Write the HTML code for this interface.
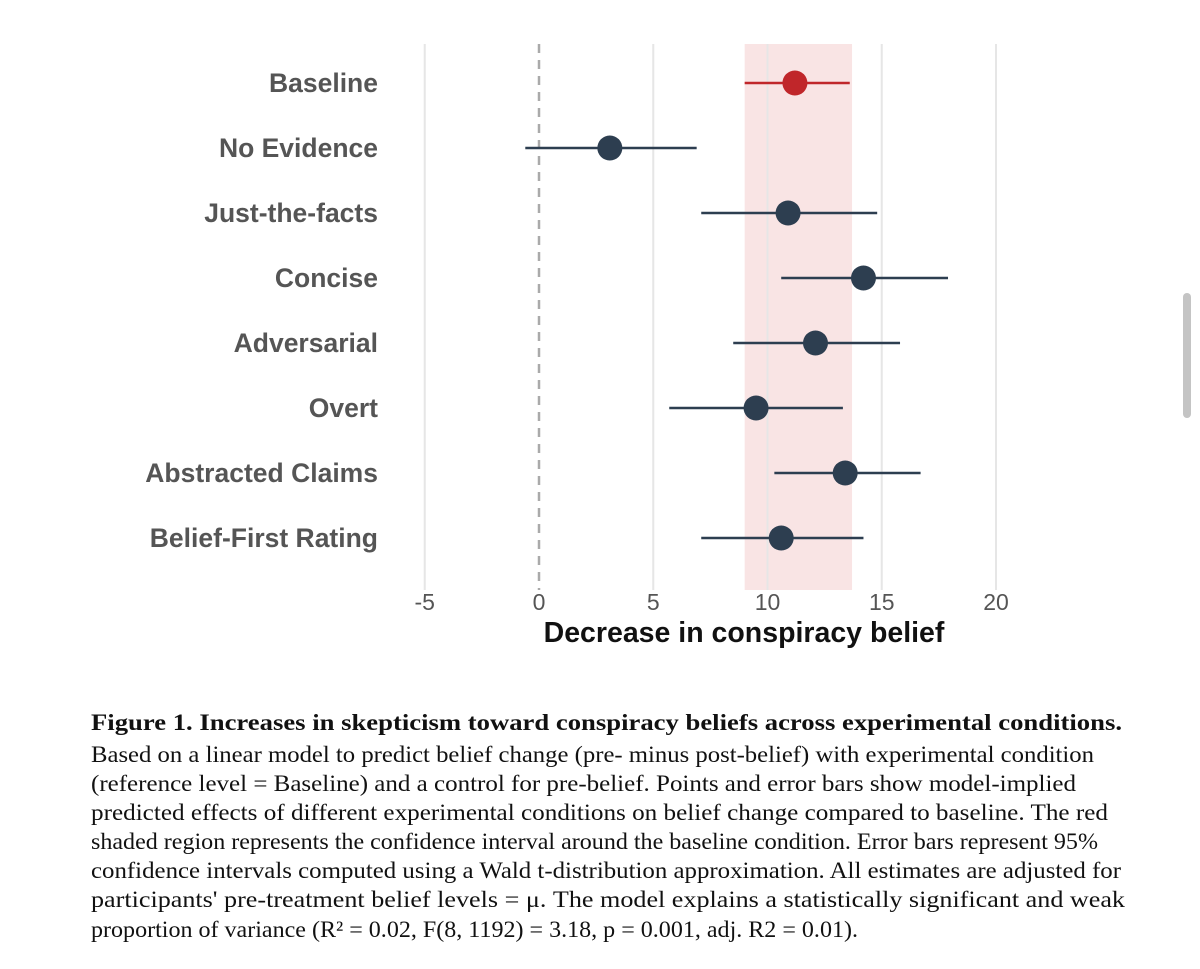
<!DOCTYPE html>
<html><head><meta charset="utf-8"><style>
body{margin:0;background:#fff;width:1200px;height:969px;overflow:hidden;position:relative}
svg{position:absolute;left:0;top:0}
</style></head><body>
<svg id="chart" width="1200" height="690"></svg>
<svg id="cap" width="1200" height="969" style="pointer-events:none">
<g font-family="Liberation Serif, serif" font-size="23" fill="#111">
<text x="91" y="730" font-weight="bold" textLength="1031" lengthAdjust="spacingAndGlyphs">Figure 1. Increases in skepticism toward conspiracy beliefs across experimental conditions.</text>
<text x="91" y="762" textLength="1003" lengthAdjust="spacingAndGlyphs">Based on a linear model to predict belief change (pre- minus post-belief) with experimental condition</text>
<text x="91" y="791" textLength="985" lengthAdjust="spacingAndGlyphs">(reference level = Baseline) and a control for pre-belief. Points and error bars show model-implied</text>
<text x="91" y="820" textLength="1017" lengthAdjust="spacingAndGlyphs">predicted effects of different experimental conditions on belief change compared to baseline. The red</text>
<text x="91" y="849" textLength="1007" lengthAdjust="spacingAndGlyphs">shaded region represents the confidence interval around the baseline condition. Error bars represent 95%</text>
<text x="91" y="878" textLength="1030" lengthAdjust="spacingAndGlyphs">confidence intervals computed using a Wald t-distribution approximation. All estimates are adjusted for</text>
<text x="91" y="907" textLength="1034" lengthAdjust="spacingAndGlyphs">participants' pre-treatment belief levels = μ. The model explains a statistically significant and weak</text>
<text x="91" y="937" textLength="767" lengthAdjust="spacingAndGlyphs">proportion of variance (R² = 0.02, F(8, 1192) = 3.18, p = 0.001, adj. R2 = 0.01).</text>
</g>
</svg>
<div style="position:absolute;left:1183px;top:293px;width:8px;height:125px;border-radius:4px;background:#c4c4c4"></div>
<script>
const categories=["Baseline","No Evidence","Just-the-facts","Concise","Adversarial","Overt","Abstracted Claims","Belief-First Rating"];
const estimates=[11.2,3.1,10.9,14.2,12.1,9.5,13.4,10.6];
const lowers=[9.0,-0.6,7.1,10.6,8.5,5.7,10.3,7.1];
const uppers=[13.6,6.9,14.8,17.9,15.8,13.3,16.7,14.2];
const xTicks=[-5,0,5,10,15,20];
const baseBand=[9.0,13.7];
const NS="http://www.w3.org/2000/svg";
const svg=document.getElementById('chart');
const xs=v=>539+v*22.85;
const ys=i=>83+i*65;
function mk(t,a){const e=document.createElementNS(NS,t);for(const k in a)e.setAttribute(k,a[k]);svg.appendChild(e);return e;}
let band=mk('rect',{x:xs(baseBand[0]),y:44,width:xs(baseBand[1])-xs(baseBand[0]),height:546,fill:'#f9e4e4'});


xTicks.forEach(t=>{
 if(t!==0){const g=mk('line',{x1:xs(t),x2:xs(t),y1:44,y2:590,stroke:'#e6e6e6','stroke-width':2});
 
 }
 const l=mk('text',{x:xs(t),y:610,'text-anchor':'middle','font-family':'Liberation Sans,sans-serif','font-size':23,fill:'#555'});
 l.textContent=t;
 
 
});
const z=mk('line',{x1:xs(0),x2:xs(0),y1:44,y2:590,stroke:'#aaa','stroke-width':2.5,'stroke-dasharray':'9,7'});


categories.forEach((c,i)=>{
 const col=i===0?'#c0262a':'#2d3e50';
 const lab=mk('text',{x:378,y:ys(i)+9,'text-anchor':'end','font-family':'Liberation Sans,sans-serif','font-size':26.5,'font-weight':'bold',fill:'#555'});
 lab.textContent=c;
 
 
 const eb=mk('line',{x1:xs(lowers[i]),x2:xs(uppers[i]),y1:ys(i),y2:ys(i),stroke:col,'stroke-width':2.6});
 
 
 const p=mk('circle',{cx:xs(estimates[i]),cy:ys(i),r:12.5,fill:col});
 
 
});
const tt=mk('text',{x:744,y:642,'text-anchor':'middle','font-family':'Liberation Sans,sans-serif','font-size':28.5,'font-weight':'bold',fill:'#111'});
tt.textContent='Decrease in conspiracy belief';


</script>
</body></html>
